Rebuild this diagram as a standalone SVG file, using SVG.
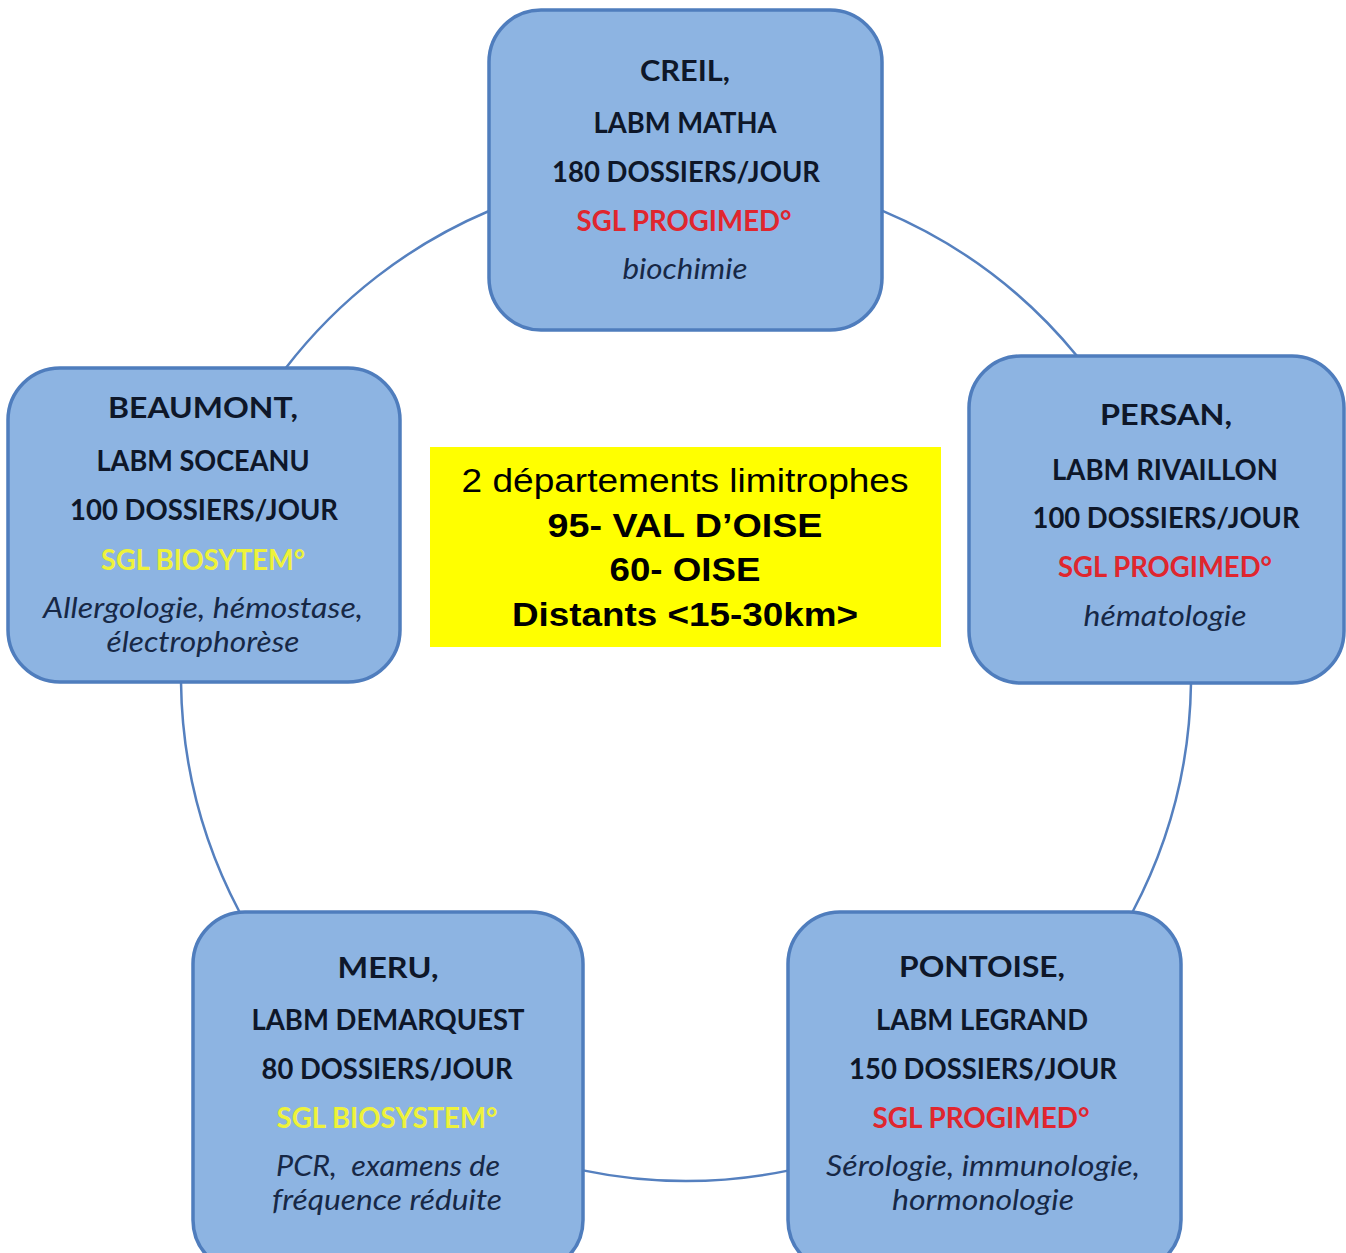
<svg xmlns="http://www.w3.org/2000/svg" width="1346" height="1253" viewBox="0 0 1346 1253">
<style>
.box{fill:#8DB4E2;stroke:#4F7DBD;stroke-width:3.5}
.conn{fill:none;stroke:#5580BF;stroke-width:2.5}
.t{font-family:Lato,"Open Sans","Liberation Sans",sans-serif;font-size:28px;font-weight:bold;fill:#0E1729;text-anchor:middle}
.red{fill:#E0262E}
.yel{fill:#EEF23A}
.it{font-family:Lato,"Open Sans","Liberation Sans",sans-serif;font-size:28px;font-style:italic;fill:#172846;text-anchor:middle}
.c{font-family:"Liberation Sans",Arial,sans-serif;font-size:33px;fill:#000;text-anchor:middle}
.cb{font-weight:bold}
</style>
<rect width="1346" height="1253" fill="#FFFFFF"/>
<g id="connectors">
<path class="conn" d="M882,210.6 A505,505 0 0,1 1077,356"/>
<path class="conn" d="M1191,683 A505,505 0 0,1 1132.5,912"/>
<path class="conn" d="M788,1170.6 A505,505 0 0,1 583,1170.4"/>
<path class="conn" d="M239.5,912 A505,505 0 0,1 181,682"/>
<path class="conn" d="M285.8,368 A505,505 0 0,1 489,211"/>
</g>
<g id="creil">
<rect class="box" x="489" y="10" width="393" height="320" rx="52"/>
<text class="t" x="685" y="81" textLength="90" lengthAdjust="spacingAndGlyphs">CREIL,</text>
<text class="t" x="685" y="133" textLength="183" lengthAdjust="spacingAndGlyphs">LABM MATHA</text>
<text class="t" x="686" y="182" textLength="268" lengthAdjust="spacingAndGlyphs">180 DOSSIERS/JOUR</text>
<text class="t red" x="684" y="231" textLength="215" lengthAdjust="spacingAndGlyphs">SGL PROGIMED°</text>
<text class="it" x="685" y="279" textLength="125" lengthAdjust="spacingAndGlyphs">biochimie</text>
</g>
<g id="beaumont">
<rect class="box" x="8" y="368" width="392" height="314" rx="52"/>
<text class="t" x="203" y="418" textLength="190" lengthAdjust="spacingAndGlyphs">BEAUMONT,</text>
<text class="t" x="203" y="471" textLength="213" lengthAdjust="spacingAndGlyphs">LABM SOCEANU</text>
<text class="t" x="204" y="520" textLength="268" lengthAdjust="spacingAndGlyphs">100 DOSSIERS/JOUR</text>
<text class="t yel" x="203" y="570" textLength="204" lengthAdjust="spacingAndGlyphs">SGL BIOSYTEM°</text>
<text class="it" x="203" y="618" textLength="320" lengthAdjust="spacingAndGlyphs">Allergologie, hémostase,</text>
<text class="it" x="203" y="652" textLength="193" lengthAdjust="spacingAndGlyphs">électrophorèse</text>
</g>
<g id="persan">
<rect class="box" x="969" y="356" width="375" height="327" rx="52"/>
<text class="t" x="1166" y="425" textLength="132" lengthAdjust="spacingAndGlyphs">PERSAN,</text>
<text class="t" x="1165" y="480" textLength="226" lengthAdjust="spacingAndGlyphs">LABM RIVAILLON</text>
<text class="t" x="1166" y="528" textLength="267" lengthAdjust="spacingAndGlyphs">100 DOSSIERS/JOUR</text>
<text class="t red" x="1165" y="577" textLength="214" lengthAdjust="spacingAndGlyphs">SGL PROGIMED°</text>
<text class="it" x="1165" y="626" textLength="163" lengthAdjust="spacingAndGlyphs">hématologie</text>
</g>
<g id="meru">
<rect class="box" x="193" y="912" width="390" height="360" rx="52"/>
<text class="t" x="388" y="978" textLength="101" lengthAdjust="spacingAndGlyphs">MERU,</text>
<text class="t" x="388" y="1030" textLength="273" lengthAdjust="spacingAndGlyphs">LABM DEMARQUEST</text>
<text class="t" x="387" y="1079" textLength="251" lengthAdjust="spacingAndGlyphs">80 DOSSIERS/JOUR</text>
<text class="t yel" x="387" y="1128" textLength="221" lengthAdjust="spacingAndGlyphs">SGL BIOSYSTEM°</text>
<text class="it" x="388" y="1176" textLength="224" lengthAdjust="spacingAndGlyphs" xml:space="preserve">PCR,  examens de</text>
<text class="it" x="387" y="1210" textLength="230" lengthAdjust="spacingAndGlyphs">fréquence réduite</text>
</g>
<g id="pontoise">
<rect class="box" x="788" y="912" width="393" height="360" rx="52"/>
<text class="t" x="982" y="977" textLength="166" lengthAdjust="spacingAndGlyphs">PONTOISE,</text>
<text class="t" x="982" y="1030" textLength="212" lengthAdjust="spacingAndGlyphs">LABM LEGRAND</text>
<text class="t" x="983" y="1079" textLength="268" lengthAdjust="spacingAndGlyphs">150 DOSSIERS/JOUR</text>
<text class="t red" x="981" y="1128" textLength="217" lengthAdjust="spacingAndGlyphs">SGL PROGIMED°</text>
<text class="it" x="983" y="1176" textLength="314" lengthAdjust="spacingAndGlyphs">Sérologie, immunologie,</text>
<text class="it" x="983" y="1210" textLength="182" lengthAdjust="spacingAndGlyphs">hormonologie</text>
</g>
<g id="center">
<rect x="430" y="447" width="511" height="200" fill="#FFFF00"/>
<text class="c" x="685" y="492" textLength="447" lengthAdjust="spacingAndGlyphs">2 départements limitrophes</text>
<text class="c cb" x="685" y="537" textLength="275" lengthAdjust="spacingAndGlyphs">95- VAL D’OISE</text>
<text class="c cb" x="685" y="581" textLength="151" lengthAdjust="spacingAndGlyphs">60- OISE</text>
<text class="c cb" x="685" y="626" textLength="346" lengthAdjust="spacingAndGlyphs">Distants &lt;15-30km&gt;</text>
</g>
</svg>
